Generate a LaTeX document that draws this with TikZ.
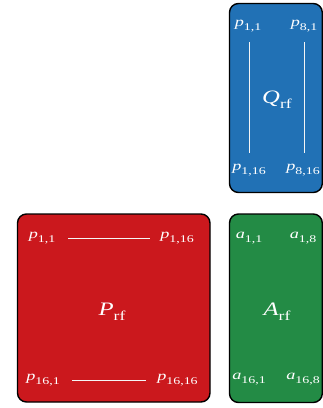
\documentclass[tikz,border=0pt]{standalone}
\usepackage{graphicx}
\usepackage{fontspec}
\setmainfont{Liberation Serif}
\definecolor{qblue}{HTML}{2171B5}
\definecolor{pred}{HTML}{CB181D}
\definecolor{agreen}{HTML}{238B45}
\newcommand{\slab}[2]{\scalebox{1.35}[1]{\fontsize{13.5}{15}\selectfont\textit{#1}\raisebox{-0.3em}{\fontsize{10.3}{12}\selectfont #2}}}
\newcommand{\blab}[2]{\scalebox{1.3}[1]{\fontsize{19}{21}\selectfont\textit{#1}\raisebox{-0.25em}{\fontsize{13.5}{15}\selectfont #2}}}
\begin{document}
\begin{tikzpicture}[x=1pt,y=-1pt,
  blk/.style={draw=black,line width=1.4pt,rounded corners=9pt},
  lbl/.style={text=white,inner sep=0pt},
  wline/.style={draw=white!92!gray,line width=0.8pt}]
\useasboundingbox (0,0) rectangle (323,408);
% boxes
\path[blk,fill=qblue] (229.5,3.5) rectangle (322.3,192.5);
\path[blk,fill=pred] (17.5,214) rectangle (210,402);
\path[blk,fill=agreen] (229.5,214) rectangle (322.3,402.5);
% Q
\node[lbl] (q11) at (248,26) {\slab{p}{1,1}};
\node[lbl] (q81) at (304,26) {\slab{p}{8,1}};
\node[lbl] (q116) at (249,170) {\slab{p}{1,16}};
\node[lbl] (q816) at (303,170) {\slab{p}{8,16}};
\node[lbl] (Q) at (277,100) {\blab{Q}{rf}};
\coordinate (qa1) at (249.3,42);
\coordinate (qa2) at (249.3,153);
\coordinate (qb1) at (304.3,42);
\coordinate (qb2) at (304.3,153);
\draw[wline] (qa1) -- (qa2);
\draw[wline] (qb1) -- (qb2);
% P
\node[lbl] (p11) at (42,238) {\slab{p}{1,1}};
\node[lbl] (p116) at (177,238) {\slab{p}{1,16}};
\node[lbl] (p161) at (43,380) {\slab{p}{16,1}};
\node[lbl] (p1616) at (177.5,380) {\slab{p}{16,16}};
\node[lbl] (P) at (112,312) {\blab{P}{rf}};
\coordinate (pa1) at (68,238);
\coordinate (pa2) at (150,238);
\coordinate (pb1) at (72,380);
\coordinate (pb2) at (146,380);
\draw[wline] (pa1) -- (pa2);
\draw[wline] (pb1) -- (pb2);
% A
\node[lbl] (a11) at (249,238) {\slab{a}{1,1}};
\node[lbl] (a18) at (303,238) {\slab{a}{1,8}};
\node[lbl] (a161) at (249,379) {\slab{a}{16,1}};
\node[lbl] (a168) at (303,379) {\slab{a}{16,8}};
\node[lbl] (A) at (277,312) {\blab{A}{rf}};
\end{tikzpicture}
\end{document}
